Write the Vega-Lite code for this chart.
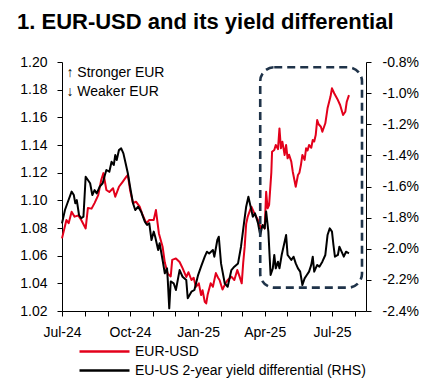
{
"$schema": "https://vega.github.io/schema/vega-lite/v6.json",
"width": 304, "height": 249,
"autosize": {"type": "none"},
"padding": {"left": 62, "top": 62, "right": 70, "bottom": 74},
"background": "white",
"config": {"view": {"stroke": null}, "font": "Liberation Sans",
  "axis": {"grid": false, "labelFont": "Liberation Sans", "labelFontSize": 14, "labelColor": "#000", "domainColor": "#000", "tickColor": "#000", "domainWidth": 1, "tickWidth": 1, "labelFlush": false}},
"title": {"text": "1. EUR-USD and its yield differential", "anchor": "start", "frame": "group", "dx": -45, "offset": 4, "baseline": "alphabetic", "fontSize": 22, "fontWeight": "bold", "font": "Liberation Sans", "color": "#000"},
"datasets": {
"eur": [
{"d":"2024-07-01","v":1.0725},{"d":"2024-07-07","v":1.0858},{"d":"2024-07-10","v":1.0835},{"d":"2024-07-14","v":1.0918},{"d":"2024-07-18","v":1.0882},{"d":"2024-07-23","v":1.0890},{"d":"2024-07-27","v":1.0858},{"d":"2024-08-02","v":1.0797},{"d":"2024-08-05","v":1.0944},{"d":"2024-08-10","v":1.0940},{"d":"2024-08-14","v":1.0980},{"d":"2024-08-19","v":1.1038},{"d":"2024-08-23","v":1.1147},{"d":"2024-08-26","v":1.1197},{"d":"2024-08-30","v":1.1075},{"d":"2024-09-03","v":1.1060},{"d":"2024-09-08","v":1.1087},{"d":"2024-09-11","v":1.1026},{"d":"2024-09-16","v":1.1098},{"d":"2024-09-21","v":1.1134},{"d":"2024-09-26","v":1.1171},{"d":"2024-09-28","v":1.1183},{"d":"2024-10-01","v":1.1075},{"d":"2024-10-05","v":1.0979},{"d":"2024-10-09","v":1.0990},{"d":"2024-10-14","v":1.0954},{"d":"2024-10-18","v":1.0894},{"d":"2024-10-23","v":1.0834},{"d":"2024-10-27","v":1.0858},{"d":"2024-11-02","v":1.0858},{"d":"2024-11-05","v":1.0930},{"d":"2024-11-09","v":1.0761},{"d":"2024-11-14","v":1.0665},{"d":"2024-11-17","v":1.0550},{"d":"2024-11-21","v":1.0470},{"d":"2024-11-25","v":1.0450},{"d":"2024-11-27","v":1.0570},{"d":"2024-12-02","v":1.0580},{"d":"2024-12-07","v":1.0554},{"d":"2024-12-11","v":1.0510},{"d":"2024-12-16","v":1.0446},{"d":"2024-12-19","v":1.0480},{"d":"2024-12-23","v":1.0424},{"d":"2024-12-26","v":1.0440},{"d":"2024-12-29","v":1.0375},{"d":"2025-01-02","v":1.0400},{"d":"2025-01-05","v":1.0315},{"d":"2025-01-07","v":1.0350},{"d":"2025-01-10","v":1.0267},{"d":"2025-01-12","v":1.0255},{"d":"2025-01-14","v":1.0320},{"d":"2025-01-18","v":1.0400},{"d":"2025-01-21","v":1.0375},{"d":"2025-01-25","v":1.0474},{"d":"2025-01-28","v":1.0440},{"d":"2025-01-30","v":1.0424},{"d":"2025-02-03","v":1.0355},{"d":"2025-02-07","v":1.0400},{"d":"2025-02-10","v":1.0424},{"d":"2025-02-15","v":1.0448},{"d":"2025-02-19","v":1.0424},{"d":"2025-02-23","v":1.0496},{"d":"2025-02-26","v":1.0450},{"d":"2025-03-01","v":1.0400},{"d":"2025-03-03","v":1.0550},{"d":"2025-03-05","v":1.0665},{"d":"2025-03-07","v":1.0830},{"d":"2025-03-09","v":1.0880},{"d":"2025-03-14","v":1.0954},{"d":"2025-03-18","v":1.0907},{"d":"2025-03-23","v":1.0858},{"d":"2025-03-27","v":1.0797},{"d":"2025-03-30","v":1.0820},{"d":"2025-04-01","v":1.0797},{"d":"2025-04-03","v":1.1062},{"d":"2025-04-05","v":1.0942},{"d":"2025-04-07","v":1.0966},{"d":"2025-04-10","v":1.1200},{"d":"2025-04-11","v":1.1351},{"d":"2025-04-14","v":1.1364},{"d":"2025-04-16","v":1.1400},{"d":"2025-04-19","v":1.1370},{"d":"2025-04-21","v":1.1520},{"d":"2025-04-23","v":1.1376},{"d":"2025-04-25","v":1.1423},{"d":"2025-04-28","v":1.1328},{"d":"2025-04-30","v":1.1400},{"d":"2025-05-02","v":1.1304},{"d":"2025-05-04","v":1.1330},{"d":"2025-05-07","v":1.1280},{"d":"2025-05-09","v":1.1207},{"d":"2025-05-13","v":1.1098},{"d":"2025-05-16","v":1.1183},{"d":"2025-05-18","v":1.1200},{"d":"2025-05-20","v":1.1255},{"d":"2025-05-22","v":1.1328},{"d":"2025-05-25","v":1.1292},{"d":"2025-05-27","v":1.1376},{"d":"2025-05-29","v":1.1360},{"d":"2025-05-31","v":1.1400},{"d":"2025-06-03","v":1.1380},{"d":"2025-06-05","v":1.1436},{"d":"2025-06-07","v":1.1425},{"d":"2025-06-09","v":1.1472},{"d":"2025-06-11","v":1.1580},{"d":"2025-06-13","v":1.1550},{"d":"2025-06-16","v":1.1532},{"d":"2025-06-18","v":1.1496},{"d":"2025-06-22","v":1.1557},{"d":"2025-06-25","v":1.1665},{"d":"2025-06-29","v":1.1750},{"d":"2025-07-01","v":1.1810},{"d":"2025-07-04","v":1.1774},{"d":"2025-07-09","v":1.1725},{"d":"2025-07-12","v":1.1689},{"d":"2025-07-16","v":1.1617},{"d":"2025-07-19","v":1.1640},{"d":"2025-07-21","v":1.1713},{"d":"2025-07-24","v":1.1761}
],
"yd": [
{"d":"2024-07-01","v":-1.837},{"d":"2024-07-05","v":-1.751},{"d":"2024-07-09","v":-1.698},{"d":"2024-07-14","v":-1.633},{"d":"2024-07-17","v":-1.655},{"d":"2024-07-19","v":-1.708},{"d":"2024-07-21","v":-1.687},{"d":"2024-07-24","v":-1.783},{"d":"2024-07-27","v":-1.804},{"d":"2024-07-30","v":-1.794},{"d":"2024-08-02","v":-1.537},{"d":"2024-08-05","v":-1.558},{"d":"2024-08-08","v":-1.579},{"d":"2024-08-11","v":-1.655},{"d":"2024-08-14","v":-1.623},{"d":"2024-08-17","v":-1.644},{"d":"2024-08-21","v":-1.601},{"d":"2024-08-25","v":-1.579},{"d":"2024-08-28","v":-1.526},{"d":"2024-08-30","v":-1.494},{"d":"2024-09-03","v":-1.505},{"d":"2024-09-06","v":-1.441},{"d":"2024-09-09","v":-1.462},{"d":"2024-09-11","v":-1.398},{"d":"2024-09-13","v":-1.430},{"d":"2024-09-16","v":-1.366},{"d":"2024-09-19","v":-1.355},{"d":"2024-09-22","v":-1.387},{"d":"2024-09-25","v":-1.451},{"d":"2024-09-28","v":-1.515},{"d":"2024-10-01","v":-1.601},{"d":"2024-10-05","v":-1.708},{"d":"2024-10-08","v":-1.751},{"d":"2024-10-12","v":-1.730},{"d":"2024-10-16","v":-1.762},{"d":"2024-10-21","v":-1.826},{"d":"2024-10-24","v":-1.847},{"d":"2024-10-27","v":-1.837},{"d":"2024-10-30","v":-1.944},{"d":"2024-11-02","v":-1.890},{"d":"2024-11-04","v":-1.923},{"d":"2024-11-08","v":-2.008},{"d":"2024-11-10","v":-1.965},{"d":"2024-11-14","v":-2.072},{"d":"2024-11-17","v":-2.158},{"d":"2024-11-20","v":-2.126},{"d":"2024-11-21","v":-2.200},{"d":"2024-11-23","v":-2.383},{"d":"2024-11-25","v":-2.210},{"d":"2024-11-29","v":-2.222},{"d":"2024-12-02","v":-2.265},{"d":"2024-12-07","v":-2.137},{"d":"2024-12-11","v":-2.180},{"d":"2024-12-16","v":-2.201},{"d":"2024-12-18","v":-2.318},{"d":"2024-12-23","v":-2.276},{"d":"2024-12-27","v":-2.265},{"d":"2025-01-01","v":-2.169},{"d":"2025-01-05","v":-2.115},{"d":"2025-01-10","v":-2.051},{"d":"2025-01-13","v":-2.019},{"d":"2025-01-16","v":-2.030},{"d":"2025-01-21","v":-2.008},{"d":"2025-01-23","v":-2.051},{"d":"2025-01-27","v":-1.944},{"d":"2025-01-29","v":-1.923},{"d":"2025-02-01","v":-2.094},{"d":"2025-02-06","v":-2.222},{"d":"2025-02-10","v":-2.244},{"d":"2025-02-15","v":-2.137},{"d":"2025-02-19","v":-2.115},{"d":"2025-02-24","v":-2.094},{"d":"2025-02-28","v":-1.987},{"d":"2025-03-04","v":-1.837},{"d":"2025-03-07","v":-1.730},{"d":"2025-03-10","v":-1.666},{"d":"2025-03-13","v":-1.730},{"d":"2025-03-16","v":-1.794},{"d":"2025-03-19","v":-1.773},{"d":"2025-03-23","v":-1.836},{"d":"2025-03-26","v":-1.912},{"d":"2025-03-29","v":-1.847},{"d":"2025-04-01","v":-1.869},{"d":"2025-04-03","v":-1.760},{"d":"2025-04-06","v":-1.890},{"d":"2025-04-09","v":-2.169},{"d":"2025-04-12","v":-2.126},{"d":"2025-04-14","v":-2.040},{"d":"2025-04-16","v":-2.126},{"d":"2025-04-19","v":-2.083},{"d":"2025-04-21","v":-2.126},{"d":"2025-04-24","v":-2.040},{"d":"2025-04-28","v":-1.955},{"d":"2025-04-30","v":-1.912},{"d":"2025-05-02","v":-2.040},{"d":"2025-05-07","v":-2.072},{"d":"2025-05-10","v":-2.051},{"d":"2025-05-13","v":-2.094},{"d":"2025-05-16","v":-2.126},{"d":"2025-05-19","v":-2.147},{"d":"2025-05-22","v":-2.233},{"d":"2025-05-25","v":-2.190},{"d":"2025-05-28","v":-2.169},{"d":"2025-05-31","v":-2.147},{"d":"2025-06-03","v":-2.104},{"d":"2025-06-05","v":-2.051},{"d":"2025-06-07","v":-2.147},{"d":"2025-06-11","v":-2.104},{"d":"2025-06-14","v":-2.115},{"d":"2025-06-18","v":-2.083},{"d":"2025-06-22","v":-2.040},{"d":"2025-06-25","v":-1.912},{"d":"2025-06-28","v":-1.869},{"d":"2025-07-01","v":-1.890},{"d":"2025-07-03","v":-1.976},{"d":"2025-07-05","v":-2.051},{"d":"2025-07-09","v":-2.040},{"d":"2025-07-11","v":-1.987},{"d":"2025-07-14","v":-2.019},{"d":"2025-07-17","v":-2.051},{"d":"2025-07-20","v":-2.019},{"d":"2025-07-24","v":-2.029}
]
},
"layer": [
 {"layer": [
  {"data": {"name": "eur"},
   "mark": {"type": "line", "strokeWidth": 2, "strokeJoin": "round"},
   "encoding": {
    "x": {"field": "d", "type": "temporal", "title": null,
      "scale": {"type": "utc", "domain": [{"year": 2024, "month": 7, "date": 1, "utc": true}, {"year": 2025, "month": 8, "date": 16, "utc": true}]},
      "axis": {"values": [
        {"year": 2024, "month": 7, "date": 1, "utc": true},{"year": 2024, "month": 8, "date": 1, "utc": true},{"year": 2024, "month": 9, "date": 1, "utc": true},{"year": 2024, "month": 10, "date": 1, "utc": true},{"year": 2024, "month": 11, "date": 1, "utc": true},{"year": 2024, "month": 12, "date": 1, "utc": true},{"year": 2025, "month": 1, "date": 1, "utc": true},{"year": 2025, "month": 2, "date": 1, "utc": true},{"year": 2025, "month": 3, "date": 1, "utc": true},{"year": 2025, "month": 4, "date": 1, "utc": true},{"year": 2025, "month": 5, "date": 1, "utc": true},{"year": 2025, "month": 6, "date": 1, "utc": true},{"year": 2025, "month": 7, "date": 1, "utc": true},{"year": 2025, "month": 8, "date": 1, "utc": true}],
        "tickCount": 60,
        "labelExpr": "utcmonth(datum.value) % 3 == 0 ? utcFormat(datum.value, '%b-%y') : ''",
        "tickSize": 5, "labelPadding": 9, "labelFlush": false, "labelOverlap": false, "title": null}},
    "y": {"field": "v", "type": "quantitative", "title": null,
      "scale": {"domain": [1.02, 1.2]},
      "axis": {"values": [1.02, 1.04, 1.06, 1.08, 1.1, 1.12, 1.14, 1.16, 1.18, 1.2], "tickCount": 60, "format": ".2f", "tickSize": 5, "labelPadding": 10, "labelOverlap": false, "title": null}},
    "color": {"datum": "EUR-USD", "type": "nominal",
      "scale": {"domain": ["EUR-USD", "EU-US 2-year yield differential (RHS)"], "range": ["#E3001B", "#000000"]},
      "legend": {"orient": "none", "legendX": 31, "legendY": 278, "direction": "vertical", "title": null, "symbolType": "M-2.5,0H2.5", "symbolSize": 400, "symbolStrokeWidth": 2.5, "symbolFillColor": "transparent", "labelOffset": 19, "labelFontSize": 14, "labelFont": "Liberation Sans", "labelColor": "#000", "labelLimit": 400, "rowPadding": 0}}
   }},
  {"data": {"values": [{"d": "2024-07-07", "v": 1.1923, "t": "↑ Stronger EUR"}, {"d": "2024-07-07", "v": 1.178, "t": "↓ Weaker EUR"}]},
   "mark": {"type": "text", "align": "left", "baseline": "middle", "fontSize": 14, "font": "Liberation Sans", "color": "#000"},
   "encoding": {
    "x": {"field": "d", "type": "temporal", "scale": {"type": "utc"}, "title": null},
    "y": {"field": "v", "type": "quantitative", "title": null},
    "text": {"field": "t"}
   }}
 ]},
 {"layer": [
  {"data": {"name": "yd"},
   "mark": {"type": "line", "strokeWidth": 2, "strokeJoin": "round"},
   "encoding": {
    "x": {"field": "d", "type": "temporal", "scale": {"type": "utc"}, "title": null},
    "y": {"field": "v", "type": "quantitative", "title": null,
      "scale": {"domain": [-2.4, -0.8]},
      "axis": {"orient": "right", "values": [-2.4, -2.2, -2.0, -1.8, -1.6, -1.4, -1.2, -1.0, -0.8], "tickCount": 60, "labelExpr": "replace(format(datum.value, '.1f'), '−', '-') + '%'", "tickSize": 5, "labelPadding": 11, "labelOverlap": false, "title": null}},
    "color": {"datum": "EU-US 2-year yield differential (RHS)", "type": "nominal"}
   }},
  {"data": {"values": [{"x1": "2025-03-26", "x2": "2025-08-10T14:00:00Z", "y1": -0.834, "y2": -2.25}]},
   "mark": {"type": "rect", "filled": false, "stroke": "#1f3349", "strokeWidth": 2.6, "strokeDash": [8, 5], "cornerRadius": 14},
   "encoding": {
    "x": {"field": "x1", "type": "temporal", "scale": {"type": "utc"}, "title": null},
    "x2": {"field": "x2"},
    "y": {"field": "y1", "type": "quantitative", "title": null},
    "y2": {"field": "y2"}
   }}
 ]}
],
"resolve": {"scale": {"y": "independent"}}
}
